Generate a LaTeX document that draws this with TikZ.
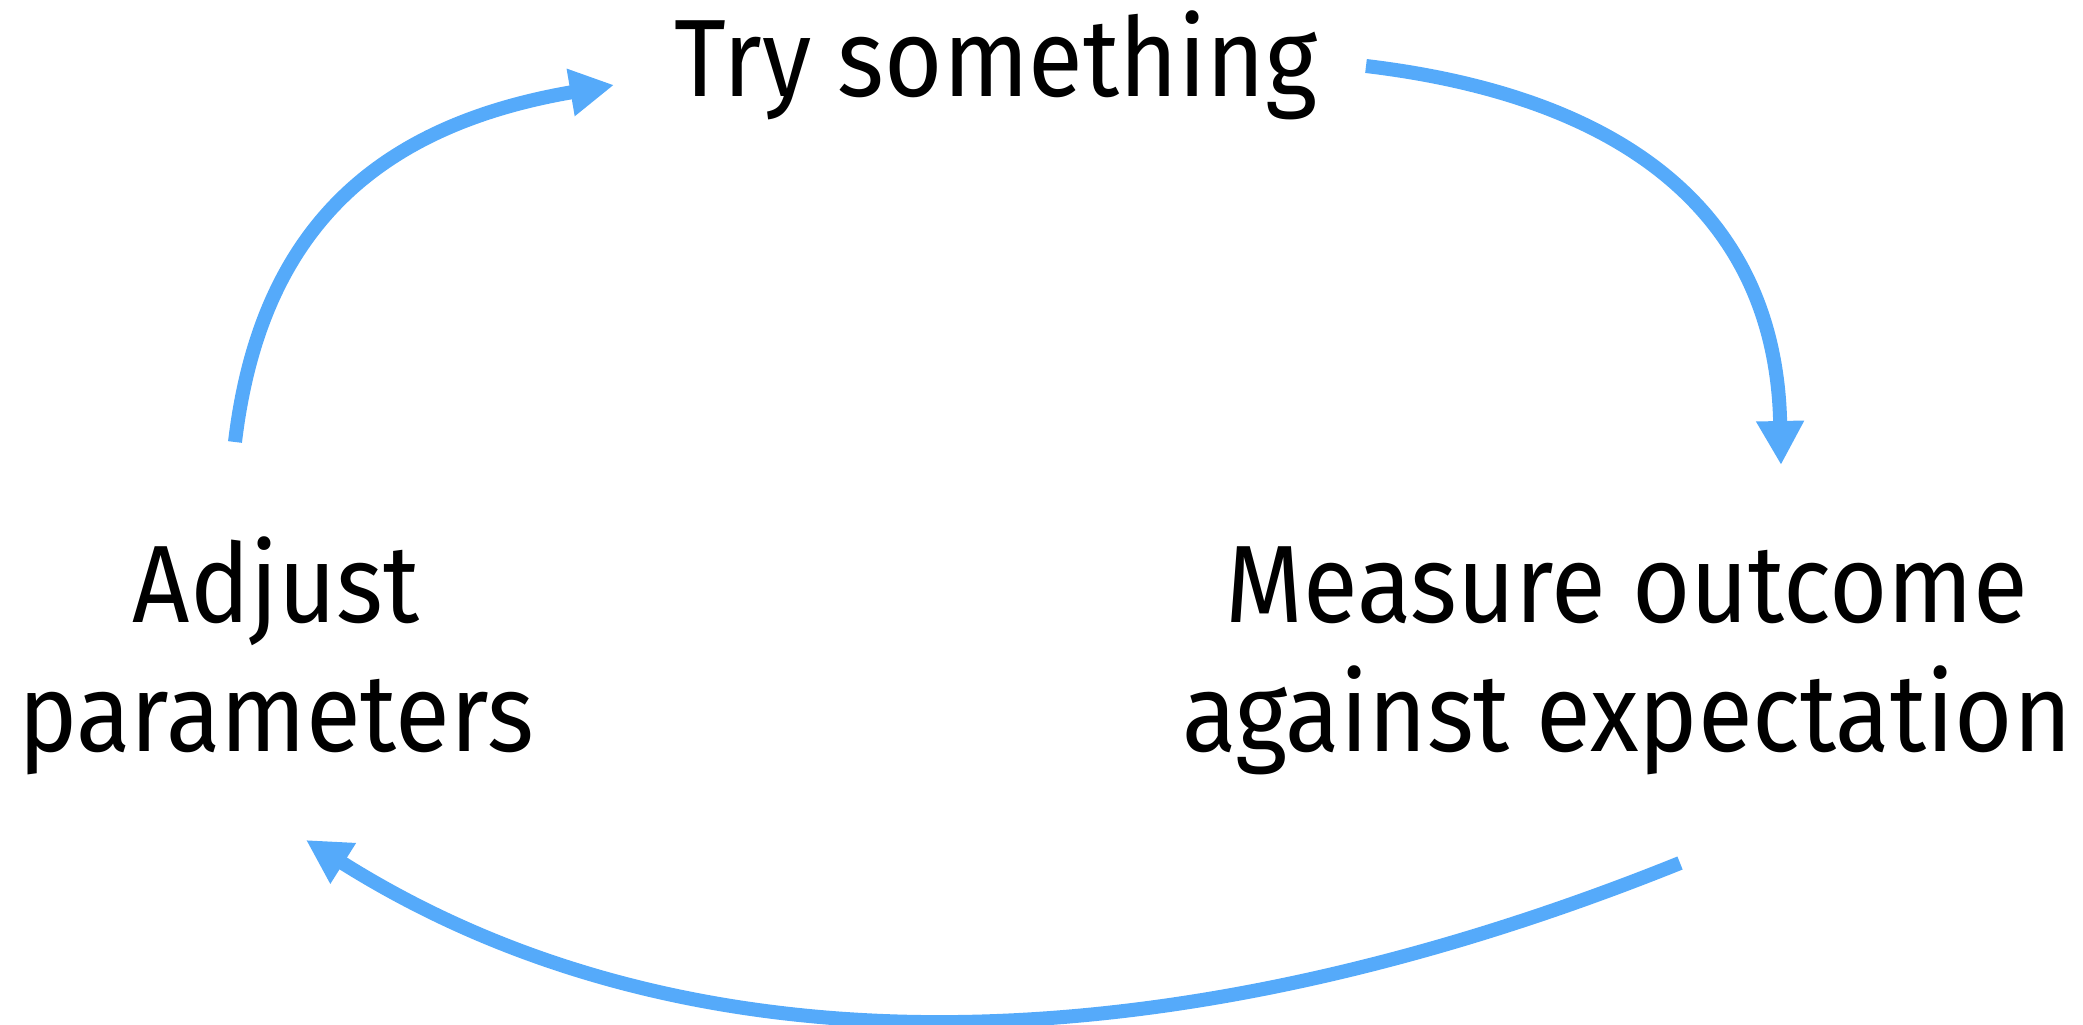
\documentclass[tikz,border=0pt]{standalone}
\usepackage{fontspec}
\setmainfont{Fira Sans}[FakeStretch=0.91]
\usetikzlibrary{arrows.meta}
\definecolor{loopblue}{RGB}{85,170,250}
\begin{document}
\begin{tikzpicture}[x=1pt,y=-1pt,
  looptext/.style={inner sep=0pt, align=center, font=\fontsize{110pt}{129pt}\selectfont},
  flow/.style={draw=loopblue, line width=14pt, -{Triangle[length=44pt,width=45pt]}}]
\useasboundingbox (0,0) rectangle (2083,1025);
\node[looptext, anchor=base] (try) at (996,96) {Try something};
\node[looptext, anchor=base] (adj) at (276,751) {Adjust\\parameters};
\node[looptext, anchor=base] (meas) at (1627,751) {Measure outcome\\against expectation};
\coordinate (a1s) at (235,442);
\coordinate (a1e) at (614,85);
\coordinate (a2s) at (1366,66);
\coordinate (a2e) at (1781,465);
\coordinate (a3s) at (1680,863);
\coordinate (a3e) at (306,840);
\draw[flow] (a1s) .. controls (260,232) and (374,126) .. (a1e);
\draw[flow] (a2s) .. controls (1626,97) and (1776,215) .. (a2e);
\draw[flow] (a3s) .. controls (1196,1058) and (706,1092) .. (a3e);
\end{tikzpicture}
\end{document}
